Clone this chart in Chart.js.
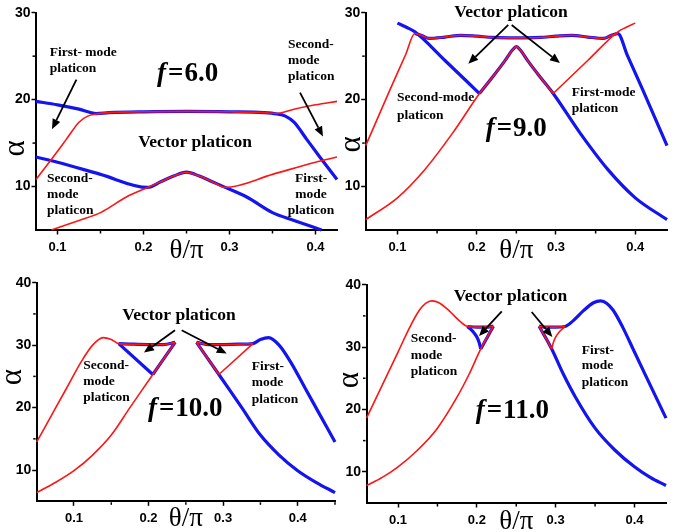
<!DOCTYPE html>
<html><head><meta charset="utf-8">
<script src="https://cdn.jsdelivr.net/npm/chart.js@4.4.1/dist/chart.umd.min.js"></script>
<style>
html,body{margin:0;padding:0;background:#fff;}
#wrap{position:relative;width:679px;height:532px;overflow:hidden;background:#fff;}
canvas{position:absolute;display:block;}
</style></head><body>
<div id="wrap">
<canvas id="c1" width="339" height="262" style="left:0;top:0"></canvas>
<canvas id="c2" width="340" height="262" style="left:339px;top:0"></canvas>
<canvas id="c3" width="339" height="270" style="left:0;top:262px"></canvas>
<canvas id="c4" width="340" height="270" style="left:339px;top:262px"></canvas>
</div>
<script>
// ---------- tick values ----------
const xMajor = [0.1, 0.2, 0.3, 0.4];
const xMinorA = [0.15, 0.25, 0.35];
const xMinorB = [0.15, 0.25, 0.35, 0.45];
const yMajorA = [10, 20, 30];
const yMinorA = [15, 25];
const yMajorB = [10, 20, 30, 40];
const yMinorB = [15, 25, 35];

// ---------- f = 6.0 ----------
const f6RedUpper = [[0.075,10.8],[0.095,13.4],[0.11,15.4],[0.125,17.4],[0.135,18.1],[0.145,18.35],[0.16,18.5],[0.2,18.6],[0.25,18.65],[0.3,18.6],[0.34,18.5],[0.355,18.4],[0.375,18.9],[0.4,19.4],[0.425,19.8]];
const f6BlueUpper = [[0.075,19.8],[0.1,19.4],[0.125,18.9],[0.145,18.4],[0.16,18.5],[0.2,18.6],[0.25,18.65],[0.3,18.6],[0.34,18.5],[0.355,18.35],[0.365,18.1],[0.375,17.4],[0.39,15.4],[0.405,13.4],[0.425,10.8]];
const f6BlueLower = [[0.075,13.4],[0.1,12.8],[0.15,11.4],[0.205,9.9],[0.22,10.55],[0.235,11.2],[0.25,11.65],[0.265,11.2],[0.28,10.55],[0.295,9.9],[0.32,8.8],[0.35,7.0],[0.375,6.1],[0.407,5.0]];
const f6RedLower = [[0.093,5.0],[0.125,6.1],[0.15,7.0],[0.18,8.8],[0.205,9.9],[0.22,10.55],[0.235,11.2],[0.25,11.65],[0.265,11.2],[0.28,10.55],[0.295,9.9],[0.35,11.4],[0.4,12.8],[0.425,13.4]];

// ---------- f = 9.0 ----------
const f9RedRise = [[0.06,14.7],[0.09,21.0],[0.11,25.1],[0.122,27.6],[0.13,27.4],[0.14,27.05],[0.16,27.2],[0.18,27.4],[0.2,27.3],[0.22,27.15],[0.25,27.1],[0.28,27.15],[0.3,27.3],[0.32,27.4],[0.34,27.2],[0.36,27.05],[0.37,27.4],[0.378,27.6]];
const f9RedDiag = [[0.2965,20.7],[0.34,24.5],[0.378,27.8],[0.388,28.3],[0.4,28.8]];
const f9RedLower = [[0.06,6.2],[0.1,8.7],[0.135,12.0],[0.17,16.2],[0.2035,20.7],[0.22,22.6],[0.235,24.4],[0.245,25.7],[0.25,26.1],[0.255,25.7],[0.265,24.4],[0.28,22.6],[0.2965,20.7]];
const f9BlueFlat = [[0.122,27.6],[0.13,27.4],[0.14,27.05],[0.16,27.2],[0.18,27.4],[0.2,27.3],[0.22,27.15],[0.25,27.1],[0.28,27.15],[0.3,27.3],[0.32,27.4],[0.34,27.2],[0.36,27.05],[0.37,27.4],[0.378,27.6],[0.39,25.1],[0.41,21.0],[0.44,14.7]];
const f9BlueDiag = [[0.1,28.8],[0.112,28.3],[0.122,27.8],[0.16,24.5],[0.2035,20.7]];
const f9BlueLower = [[0.2035,20.7],[0.22,22.6],[0.235,24.4],[0.245,25.7],[0.25,26.1],[0.255,25.7],[0.265,24.4],[0.28,22.6],[0.2965,20.7],[0.33,16.2],[0.365,12.0],[0.4,8.7],[0.44,6.2]];

// ---------- f = 10.0 ----------
const f10RedLeft = [[0.05,14.5],[0.07,18.8],[0.09,23.1],[0.11,27.4],[0.125,30.0],[0.139,31.2],[0.15,30.9],[0.16,30.25],[0.18,30.15],[0.2,30.1],[0.22,30.1],[0.2357,30.45]];
const f10RedLower = [[0.05,6.4],[0.075,8.0],[0.1,9.9],[0.125,12.4],[0.15,15.6],[0.175,20.0],[0.19,22.6],[0.2057,25.3],[0.2357,30.45]];
const f10RedFlatR = [[0.2643,30.45],[0.28,30.1],[0.3,30.1],[0.32,30.15],[0.34,30.25]];
const f10RedDiagR = [[0.2943,25.3],[0.34,30.25]];
const f10RedDownR = [[0.2643,30.45],[0.2943,25.3]];
const f10BlueFlatL = [[0.16,30.25],[0.18,30.15],[0.2,30.1],[0.22,30.1],[0.2357,30.45]];
const f10BlueDiagL = [[0.16,30.25],[0.2057,25.3]];
const f10BlueUpL = [[0.2057,25.3],[0.2357,30.45]];
const f10BlueRight = [[0.2643,30.45],[0.28,30.1],[0.3,30.1],[0.32,30.15],[0.34,30.25],[0.35,30.9],[0.361,31.2],[0.375,30.0],[0.39,27.4],[0.41,23.1],[0.43,18.8],[0.45,14.5]];
const f10BlueLower = [[0.2643,30.45],[0.2943,25.3],[0.31,22.6],[0.325,20.0],[0.35,15.6],[0.375,12.4],[0.4,9.9],[0.425,8.0],[0.45,6.4]];

// ---------- f = 11.0 ----------
const f11RedLeft = [[0.06,18.6],[0.08,23.9],[0.1,29.2],[0.115,33.2],[0.127,35.9],[0.135,37.0],[0.143,37.4],[0.152,37.1],[0.165,35.8],[0.178,34.2],[0.188,33.3],[0.2,33.2],[0.212,33.2],[0.221,33.35]];
const f11RedLower = [[0.06,7.8],[0.08,9.1],[0.1,10.8],[0.125,13.5],[0.15,17.0],[0.175,22.0],[0.19,25.6],[0.205,29.7],[0.221,33.35]];
const f11RedFlatR = [[0.279,33.35],[0.288,33.2],[0.3,33.2],[0.312,33.3]];
const f11RedArcR = [[0.295,29.7],[0.297,30.7],[0.3,31.6],[0.305,32.5],[0.312,33.3]];
const f11RedDownR = [[0.279,33.35],[0.295,29.7]];
const f11BlueFlatL = [[0.188,33.3],[0.2,33.2],[0.212,33.2],[0.221,33.35]];
const f11BlueArcL = [[0.188,33.3],[0.195,32.5],[0.2,31.6],[0.203,30.7],[0.205,29.7]];
const f11BlueUpL = [[0.205,29.7],[0.221,33.35]];
const f11BlueRight = [[0.279,33.35],[0.288,33.2],[0.3,33.2],[0.312,33.3],[0.322,34.2],[0.335,35.8],[0.348,37.1],[0.357,37.4],[0.365,37.0],[0.373,35.9],[0.385,33.2],[0.4,29.2],[0.42,23.9],[0.44,18.6]];
const f11BlueLower = [[0.279,33.35],[0.295,29.7],[0.31,25.6],[0.325,22.0],[0.35,17.0],[0.375,13.5],[0.4,10.8],[0.42,9.1],[0.44,7.8]];

// ---------- annotations (positions in data units) ----------
const notes6 = [
  ['First- mode',0.091,25.0,'left'],['platicon',0.091,23.2,'left'],
  ['Second-',0.368,25.96,'left'],['mode',0.368,24.07,'left'],['platicon',0.368,22.23,'left'],
  ['Second-',0.0878,10.55,'left'],['mode',0.0878,8.66,'left'],['platicon',0.0878,6.83,'left'],
  ['First-',0.3948,10.55,'center'],['mode',0.3948,8.66,'center'],['platicon',0.3948,6.83,'center']
];
const notes9 = [
  ['Second-mode',0.0995,19.81,'left'],['platicon',0.0995,17.82,'left'],
  ['First-mode',0.3198,20.46,'left'],['platicon',0.3198,18.63,'left']
];
const notes10 = [
  ['Second-',0.1125,26.25,'left'],['mode',0.1125,23.59,'left'],['platicon',0.1125,21.08,'left'],
  ['First-',0.3383,26.04,'left'],['mode',0.3383,23.4,'left'],['platicon',0.3383,20.76,'left']
];
const notes11 = [
  ['Second-',0.1161,30.82,'left'],['mode',0.1161,28.1,'left'],['platicon',0.1161,25.54,'left'],
  ['First-',0.3331,28.95,'left'],['mode',0.3331,26.42,'left'],['platicon',0.3331,23.77,'left']
];

const BLUE = '#1414f0';
const RED = '#ff1414';
function line(points, color, width){
  return {data: points.map(p => ({x:p[0], y:p[1]})), borderColor: color, backgroundColor: color,
    borderWidth: width, showLine: true, pointRadius: 0, pointHoverRadius: 0,
    cubicInterpolationMode: 'monotone', fill: false, clip: 3};
}
const R = p => line(p, RED, 1.6);
const B = p => line(p, BLUE, 3.2);

const panels = [
  {id:'c1', xMin:0.075, xMax:0.425, yMin:5, yMax:30, yMajor:yMajorA, yMinor:yMinorA, xMinor:xMinorA,
   padTop:12.7, padRight:2, yW:36, xH:32, alphaDx:20, alphaV:14.4, thetaDy:28,
   datasets:[R(f6RedUpper), R(f6RedLower), B(f6BlueUpper), B(f6BlueLower)],
   notes:notes6, vec:[0.26,14.5,'center'], fval:'6.0', fpos:[0.2157,22.1],
   arrows:[[0.122,22.3,0.0936,16.6],[0.382,20.8,0.4087,15.76]]},
  {id:'c2', xMin:0.06, xMax:0.44, yMin:5, yMax:30, yMajor:yMajorA, yMinor:yMinorA, xMinor:xMinorA,
   padTop:12.7, padRight:12, yW:26.7, xH:32, alphaDx:13.7, alphaV:14.85, thetaDy:28,
   datasets:[R(f9RedRise), R(f9RedDiag), R(f9RedLower), B(f9BlueFlat), B(f9BlueDiag), B(f9BlueLower)],
   notes:notes9, vec:[0.2432,29.47,'center'], fval:'9.0', fpos:[0.2113,15.8],
   arrows:[[0.2398,28.59,0.1894,24.12],[0.2441,28.59,0.305,24.2]]},
  {id:'c3', xMin:0.05, xMax:0.45, yMin:5, yMax:40, yMajor:yMajorB, yMinor:yMinorB, xMinor:xMinorB,
   padTop:20.7, padRight:4, yW:36.7, xH:30.7, alphaDx:23.7, alphaV:24.9, thetaDy:25,
   datasets:[R(f10RedLeft), R(f10RedLower), R(f10RedFlatR), R(f10RedDiagR), R(f10RedDownR),
             B(f10BlueFlatL), B(f10BlueDiagL), B(f10BlueUpL), B(f10BlueRight), B(f10BlueLower)],
   notes:notes10, vec:[0.2408,33.95,'center'], fval:'10.0', fpos:[0.1992,18.63],
   arrows:[[0.2354,32.39,0.1939,28.81],[0.2444,32.39,0.3048,28.65]]},
  {id:'c4', xMin:0.06, xMax:0.44, yMin:5, yMax:40, yMajor:yMajorB, yMinor:yMinorB, xMinor:xMinorA,
   padTop:22.7, padRight:13, yW:27.5, xH:29, alphaDx:16.5, alphaV:24.7, thetaDy:26,
   datasets:[R(f11RedLeft), R(f11RedLower), R(f11RedFlatR), R(f11RedArcR), R(f11RedDownR),
             B(f11BlueFlatL), B(f11BlueArcL), B(f11BlueUpL), B(f11BlueRight), B(f11BlueLower)],
   notes:notes11, vec:[0.2427,37.39,'center'], fval:'11.0', fpos:[0.1986,18.65],
   arrows:[[0.2316,35.74,0.2028,31.78],[0.2696,35.63,0.2958,31.62]]}
];

function drawArrow(ctx, x1, y1, x2, y2){
  const a = Math.atan2(y2 - y1, x2 - x1), L = 10, W = 4.2;
  const bx = x2 - L * Math.cos(a), by = y2 - L * Math.sin(a);
  ctx.lineWidth = 1.8; ctx.strokeStyle = '#000'; ctx.fillStyle = '#000';
  ctx.beginPath(); ctx.moveTo(x1, y1); ctx.lineTo(bx, by); ctx.stroke();
  ctx.beginPath(); ctx.moveTo(x2, y2);
  ctx.lineTo(bx - W * Math.sin(a), by + W * Math.cos(a));
  ctx.lineTo(bx + W * Math.sin(a), by - W * Math.cos(a));
  ctx.closePath(); ctx.fill();
}

function makeAnnot(P){
  return {
    id: 'annot_' + P.id,
    afterDraw(chart){
      const ctx = chart.ctx, xs = chart.scales.x, ys = chart.scales.y, ca = chart.chartArea;
      ctx.save();
      // minor ticks
      ctx.strokeStyle = '#000'; ctx.lineWidth = 1.5;
      P.xMinor.forEach(v => { const px = xs.getPixelForValue(v);
        ctx.beginPath(); ctx.moveTo(px, ca.bottom + 1); ctx.lineTo(px, ca.bottom + 3.5); ctx.stroke(); });
      P.yMinor.forEach(v => { const py = ys.getPixelForValue(v);
        ctx.beginPath(); ctx.moveTo(ca.left - 1, py); ctx.lineTo(ca.left - 3.5, py); ctx.stroke(); });
      // small labels
      ctx.fillStyle = '#000'; ctx.textBaseline = 'alphabetic';
      ctx.font = 'bold 13.5px "Liberation Serif"';
      P.notes.forEach(n => { ctx.textAlign = n[3]; ctx.fillText(n[0], xs.getPixelForValue(n[1]), ys.getPixelForValue(n[2])); });
      // Vector platicon
      ctx.font = 'bold 17.5px "Liberation Serif"'; ctx.textAlign = P.vec[2];
      ctx.fillText('Vector platicon', xs.getPixelForValue(P.vec[0]), ys.getPixelForValue(P.vec[1]));
      // f = value
      let fx = xs.getPixelForValue(P.fpos[0]); const fy = ys.getPixelForValue(P.fpos[1]);
      ctx.textAlign = 'left';
      ctx.font = 'italic bold 27px "Liberation Serif"'; ctx.fillText('f', fx, fy);
      fx += ctx.measureText('f').width + 2;
      ctx.font = 'bold 27px "Liberation Serif"'; ctx.fillText('=', fx, fy);
      fx += ctx.measureText('=').width + 1;
      ctx.fillText(P.fval, fx, fy);
      // arrows
      P.arrows.forEach(a => drawArrow(ctx, xs.getPixelForValue(a[0]), ys.getPixelForValue(a[1]), xs.getPixelForValue(a[2]), ys.getPixelForValue(a[3])));
      // axis titles
      ctx.fillStyle = '#000';
      ctx.font = '27px "Liberation Serif"'; ctx.textAlign = 'center';
      ctx.fillText('\u03B8/\u03C0', xs.getPixelForValue(0.25), ca.bottom + P.thetaDy);
      ctx.save();
      ctx.translate(ca.left - P.alphaDx, ys.getPixelForValue(P.alphaV));
      ctx.rotate(-Math.PI / 2);
      ctx.textBaseline = 'middle';
      ctx.font = '31px "Liberation Serif"';
      ctx.fillText('\u03B1', 0, 0);
      ctx.restore();
      ctx.restore();
    }
  };
}

panels.forEach(P => {
  new Chart(document.getElementById(P.id), {
    type: 'scatter',
    data: {datasets: P.datasets},
    options: {
      responsive: false, animation: false, events: [],
      layout: {padding: {top: P.padTop, right: P.padRight, left: 0, bottom: 0}},
      plugins: {legend: {display: false}, tooltip: {enabled: false}},
      scales: {
        x: {type: 'linear', min: P.xMin, max: P.xMax,
            afterFit: s => { s.height = P.xH; },
            afterBuildTicks: s => { s.ticks = xMajor.map(v => ({value: v})); },
            ticks: {callback: v => Number(v).toFixed(1), color: '#000', padding: 5, maxRotation: 0, autoSkip: false,
                    font: {family: 'Liberation Sans', size: 13, weight: 'bold'}},
            grid: {display: true, drawOnChartArea: false, drawTicks: true, tickLength: 4.5, tickWidth: 1.5, tickColor: '#000'},
            border: {display: true, color: '#000', width: 2}},
        y: {type: 'linear', min: P.yMin, max: P.yMax,
            afterFit: s => { s.width = P.yW; },
            afterBuildTicks: s => { s.ticks = P.yMajor.map(v => ({value: v})); },
            ticks: {callback: v => String(v), color: '#000', padding: 1, autoSkip: false,
                    font: {family: 'Liberation Sans', size: 14, weight: 'bold'}},
            grid: {display: true, drawOnChartArea: false, drawTicks: true, tickLength: 4.5, tickWidth: 1.5, tickColor: '#000'},
            border: {display: true, color: '#000', width: 2}}
      }
    },
    plugins: [makeAnnot(P)]
  });
});
</script>
</body></html>
